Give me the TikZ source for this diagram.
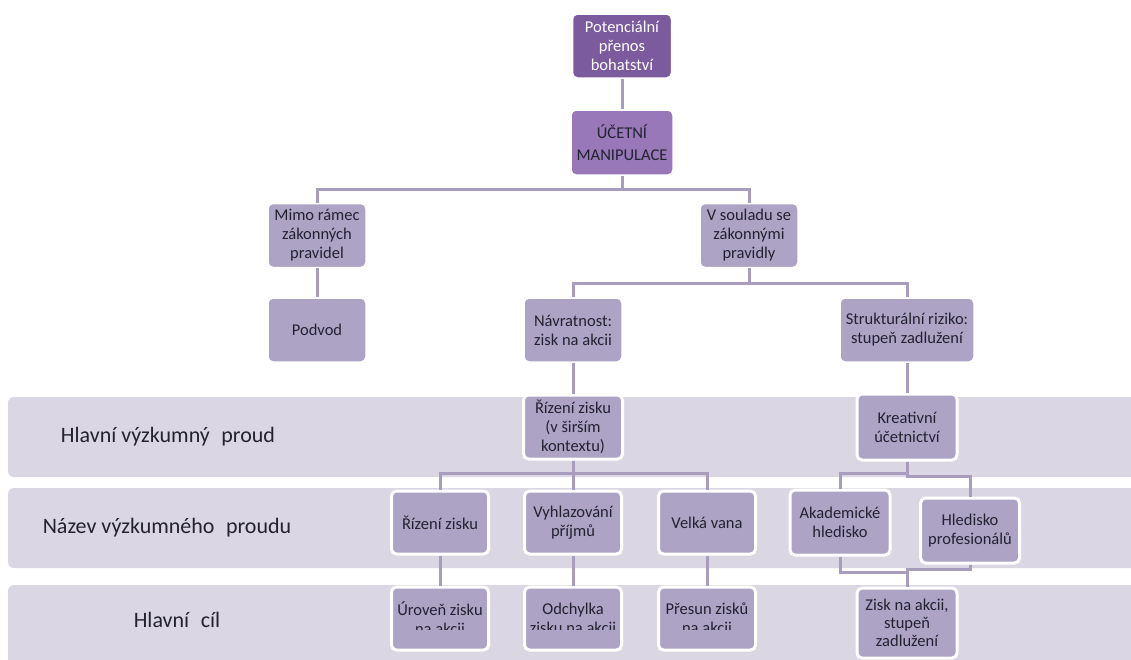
\documentclass[tikz,border=0pt]{standalone}
\usepackage{fontspec}
\setmainfont{Carlito}
\definecolor{topc}{HTML}{7B5B9E}
\definecolor{midc}{HTML}{9878B8}
\definecolor{boxc}{HTML}{ADA3C5}
\definecolor{bandc}{HTML}{DBD6E4}
\definecolor{linec}{HTML}{A89DBF}
\definecolor{txtc}{HTML}{222230}
\tikzset{
  box/.style={draw=white, line width=1.5pt, fill=boxc, rounded corners=5pt, align=center,
    minimum width=98pt, minimum height=64pt, inner sep=1pt, text=txtc,
    font=\fontsize{16.5}{19}\selectfont},
  topbox/.style={box, fill=topc, text=white},
  midbox/.style={box, fill=midc, font=\fontsize{16.5}{22}\selectfont},
  bandbox/.style={box, line width=3pt},
  band/.style={fill=bandc, rounded corners=6pt},
  conn/.style={draw=linec, line width=3pt},
  bandlabel/.style={text=txtc, font=\fontsize{22}{26}\selectfont, anchor=center},
  boxtext/.style={align=center, text=txtc, font=\fontsize{16.5}{19}\selectfont}
}
\begin{document}
\begin{tikzpicture}[x=1pt,y=-1pt]
\useasboundingbox (0,0) rectangle (1131,659);
\fill[white] (0,0) rectangle (1131,659);
% bands
\fill[band] (8,397) rectangle (1145,477);
\fill[band] (8,488) rectangle (1145,568);
\fill[band] (8,585) rectangle (1145,680);
\node[bandlabel] (l1) at (168,437) {Hlavní výzkumný\hspace{0.3em} proud};
\node[bandlabel] (l2) at (167,528) {Název výzkumného\hspace{0.3em} proudu};
% nodes
\node[topbox, minimum width=99pt] (pot) at (622,46) {Potenciální\\přenos\\bohatství};
\node[midbox, minimum width=102pt, minimum height=65pt] (ucet) at (622,142.5) {ÚČETNÍ\\MANIPULACE};
\node[box] (mimo) at (317,235.5) {Mimo rámec\\zákonných\\pravidel};
\node[box] (soulad) at (749,235.5) {V souladu se\\zákonnými\\pravidly};
\node[box] (podvod) at (317,330) {Podvod};
\node[box] (navrat) at (573,330) {Návratnost:\\zisk na akcii};
\node[box, minimum width=134pt] (strukt) at (907,330) {Strukturální riziko:\\stupeň zadlužení};
\node[bandbox, minimum width=99pt] (riz1) at (573,427) {Řízení zisku\\(v širším\\kontextu)};
\node[bandbox, minimum width=100pt, minimum height=66pt] (kreat) at (907,427) {Kreativní\\účetnictví};
\node[bandbox, minimum width=97pt, minimum height=63pt] (riz2) at (440,522.5) {Řízení zisku};
\node[bandbox, minimum width=97pt, minimum height=63pt] (vyhl) at (573,522.5) {Vyhlazování\\příjmů};
\node[bandbox, minimum width=97pt, minimum height=63pt] (velka) at (707,522.5) {Velká vana};
\node[bandbox, minimum width=100pt, minimum height=65pt] (akad) at (840,522.5) {Akademické\\hledisko};
\node[bandbox, minimum width=99pt, minimum height=65pt] (hled) at (970,530.5) {Hledisko\\profesionálů};
\node[bandbox, minimum width=97pt, minimum height=63pt] (urov) at (440,618.5) {};
\node[bandbox, minimum width=97pt, minimum height=63pt] (odch) at (573,618.5) {};
\node[bandbox, minimum width=97pt, minimum height=63pt] (presun) at (707,618.5) {};
\node[bandbox, minimum width=100pt, minimum height=70pt, font=\fontsize{16.5}{18}\selectfont] (zisk) at (907,623) {Zisk na akcii,\\stupeň\\zadlužení};
% clipped texts of bottom row
\begin{scope}
\clip (0,0) rectangle (1131,629);
\node[bandlabel] (l3) at (177,620) {Hlavní\hspace{0.3em} cíl};
\node[boxtext] (turov) at (urov.center) {Úroveň zisku\\na akcii};
\node[boxtext] (todch) at (odch.center) {Odchylka\\zisku na akcii};
\node[boxtext] (tpres) at (presun.center) {Přesun zisků\\na akcii};
\end{scope}
% connectors
\draw[conn] (pot.south) -- (ucet.north);
\draw[conn] (mimo.north) -- ++(0,-13) -| (ucet.south);
\draw[conn] (soulad.north) -- ++(0,-13) -| (ucet.south);
\draw[conn] (mimo.south) -- (podvod.north);
\draw[conn] (navrat.north) -- ++(0,-14) -| (soulad.south);
\draw[conn] (strukt.north) -- ++(0,-14) -| (soulad.south);
\draw[conn] (navrat.south) -- (riz1.north);
\draw[conn] (strukt.south) -- (kreat.north);
\draw[conn] (riz2.north) -- ++(0,-16) -| (riz1.south);
\draw[conn] (vyhl.north) -- (riz1.south);
\draw[conn] (velka.north) -- ++(0,-16) -| (riz1.south);
\draw[conn] (akad.north) -- ++(0,-15) -| (kreat.south);
\draw[conn] (hled.north) -- ++(0,-20) -| (kreat.south);
\draw[conn] (riz2.south) -- (urov.north);
\draw[conn] (vyhl.south) -- (odch.north);
\draw[conn] (velka.south) -- (presun.north);
\draw[conn] (akad.south) -- ++(0,16) -| (zisk.north);
\draw[conn] (hled.south) -- ++(0,5) -| (zisk.north);
\end{tikzpicture}
\end{document}
